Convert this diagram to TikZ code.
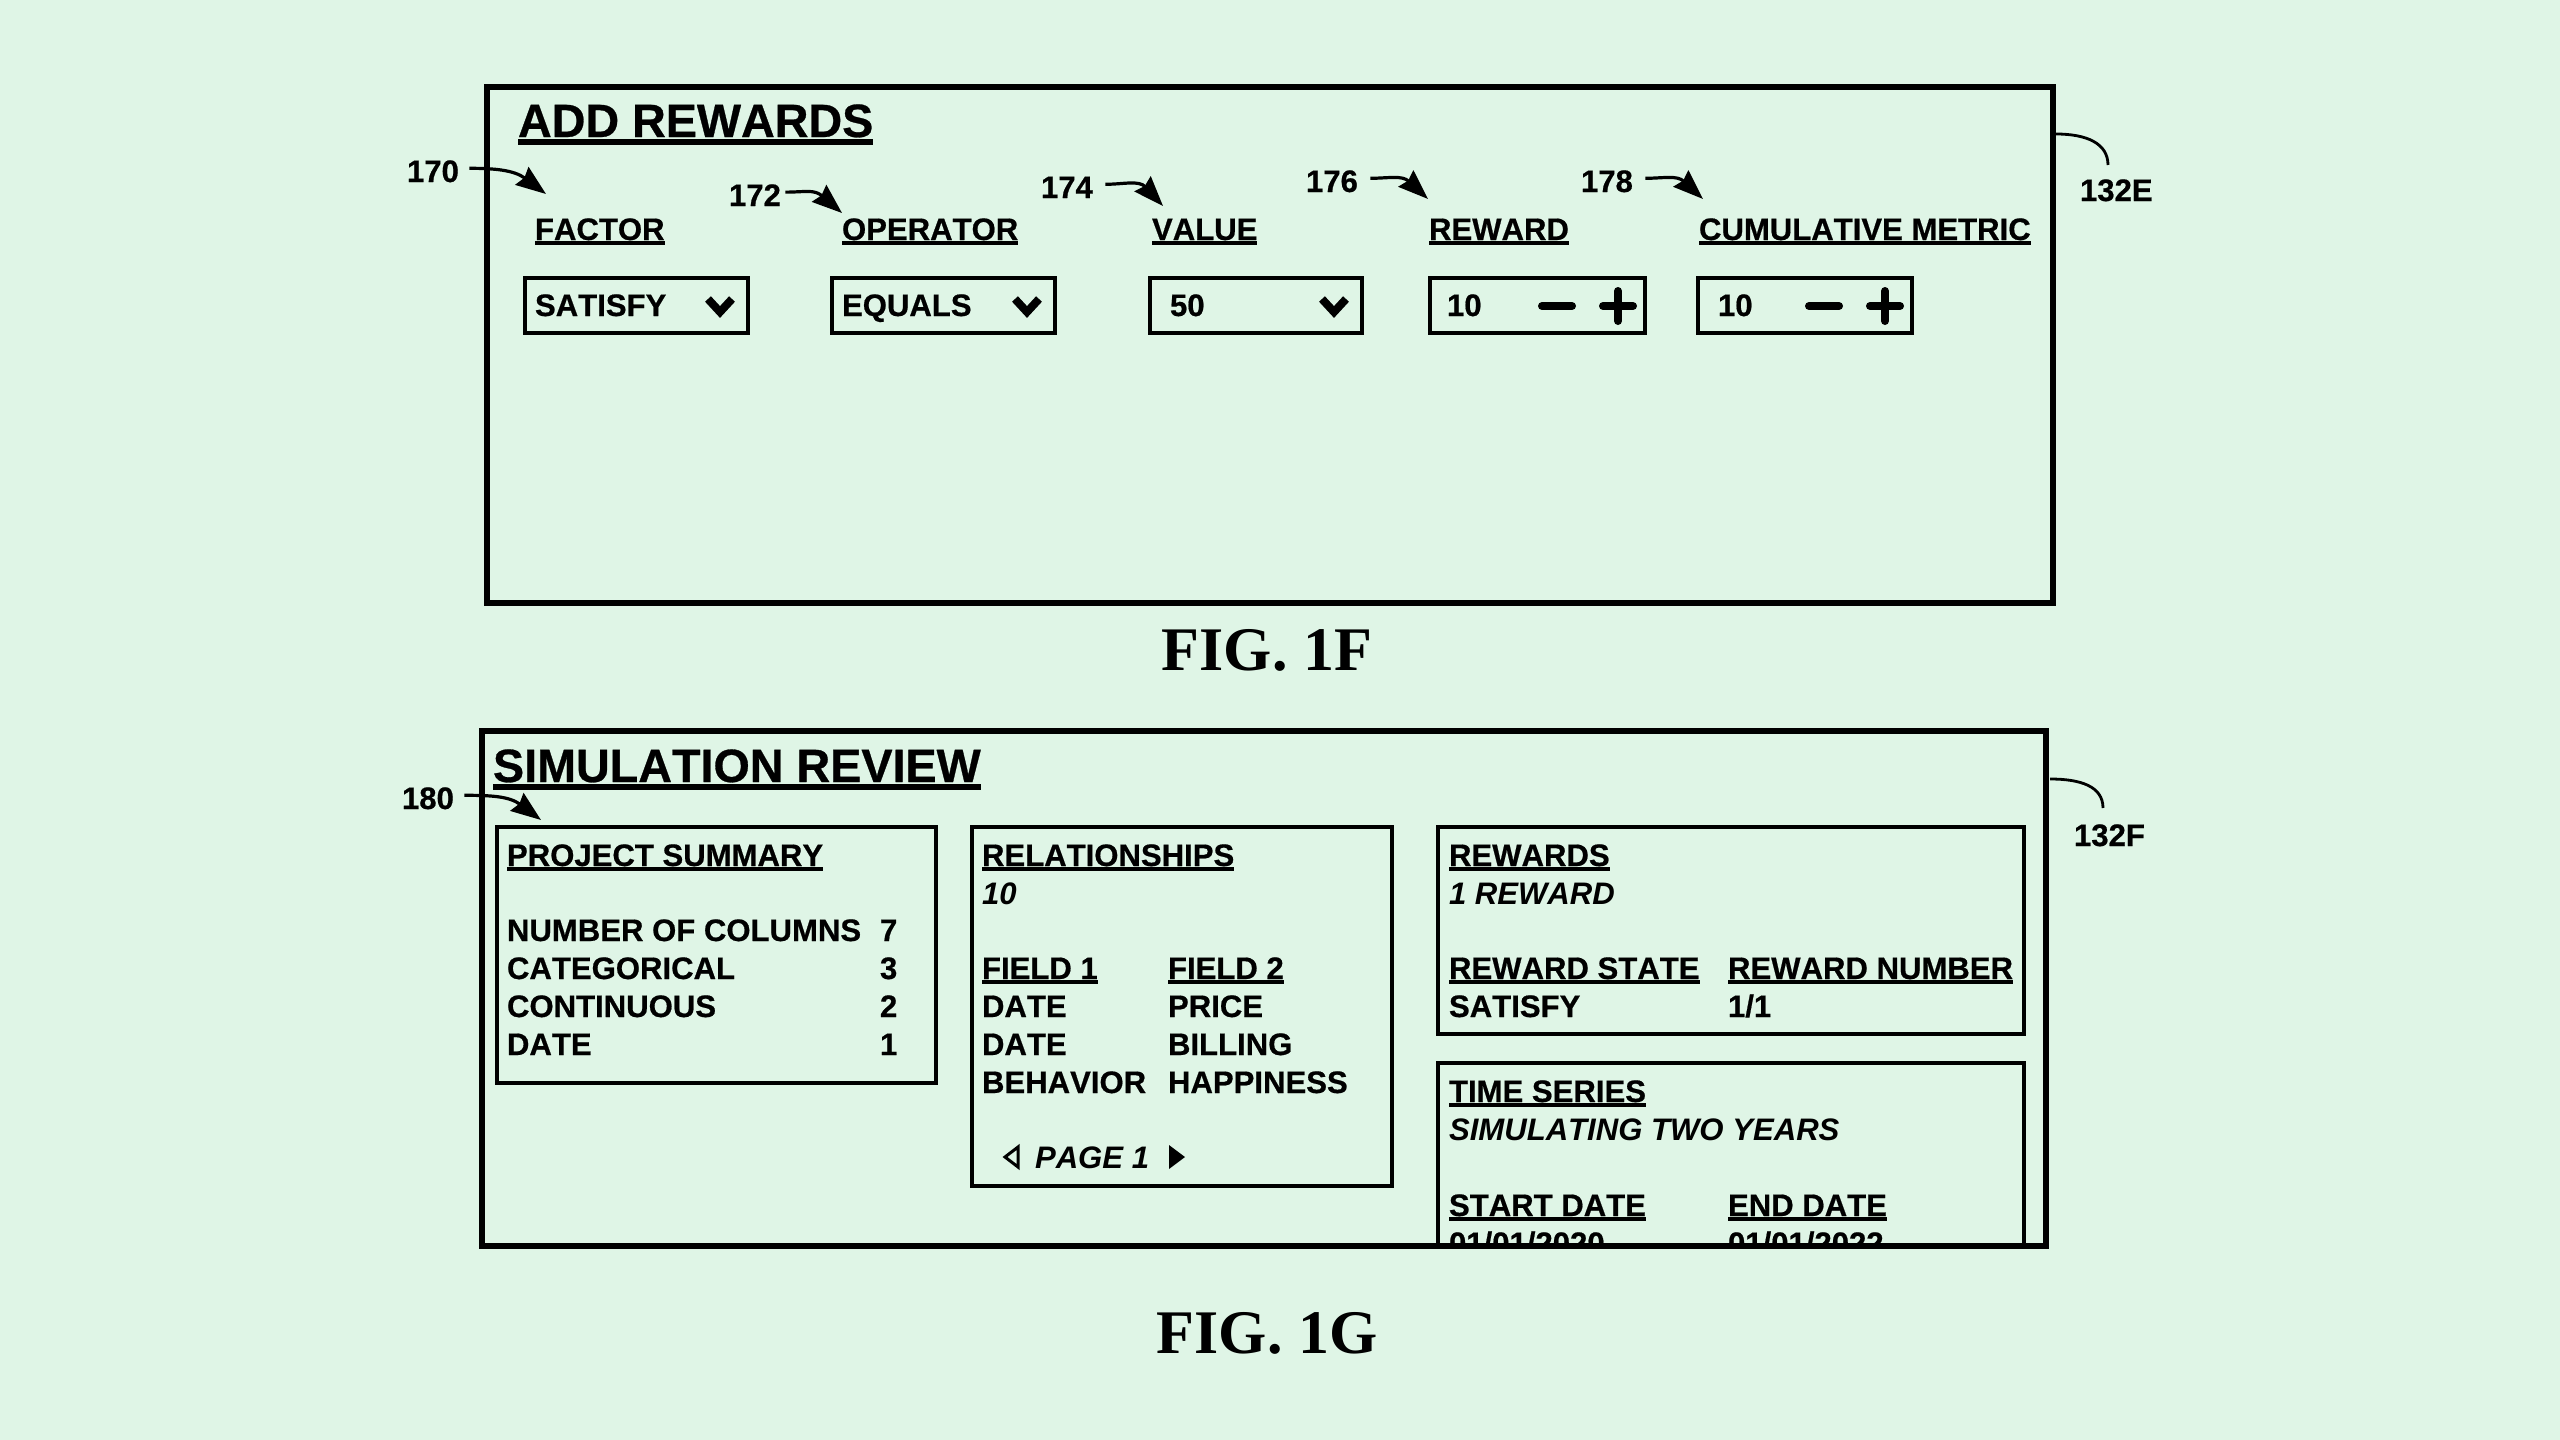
\documentclass[tikz,border=0pt]{standalone}
\usepackage{fontspec}
\setmainfont[Kerning=Off,BoldFeatures={FakeBold=0.6}]{Liberation Sans}
\newfontfamily\figfont{Liberation Serif}
\usepackage{xcolor}
\usetikzlibrary{arrows.meta}

\definecolor{paper}{HTML}{DFF5E6}

\newlength{\ulwd}
\newcommand{\ulab}[1]{\settowidth{\ulwd}{#1}\rlap{\vrule height -0.04em depth 0.17em width \ulwd}#1}

\tikzset{
	frame/.style={line width=3pt},
	panel/.style={line width=1.8pt},
	txt/.style={anchor=base west, inner sep=0pt, xshift=-0.7pt, font=\bfseries\fontsize{15.55}{18}\selectfont},
	itxt/.style={txt, font=\bfseries\itshape\fontsize{15.55}{18}\selectfont},
	title/.style={txt, font=\bfseries\fontsize{23.35}{28}\selectfont},
	figlabel/.style={anchor=base, inner sep=0pt, font=\figfont\bfseries\fontsize{31}{36}\selectfont},
	lead/.style={line width=1.6pt, -{Stealth[length=15pt,width=11pt,inset=1.5pt]}},
	bracket/.style={line width=1.4pt},
	chevron/.style={line width=4pt, line join=miter},
	sign/.style={line width=4pt, line cap=round}
}

\begin{document}
\begin{tikzpicture}[x=0.5pt,y=-0.5pt]
	\fill[paper] (0,0) rectangle (2560,1440);
	\useasboundingbox (0,0) rectangle (2560,1440);

	% FIG. 1F
	\draw[frame] (487,87) rectangle (2053,603);
	\node[title] (addrewards) at (519,137) {\ulab{ADD REWARDS}};

	\foreach \x/\nm/\lab in {536/factor/FACTOR,843/operator/OPERATOR,1153/value/VALUE,1430/reward/REWARD,1700/metric/CUMULATIVE METRIC}
	{
		\node[txt] (\nm) at (\x,240) {\ulab{\lab}};
	}

	\foreach \x/\xx/\xt/\xc/\nm/\lab in {525/748/536/720/satisfy/SATISFY,832/1055/843/1027/equals/EQUALS,1150/1362/1171/1334/fifty/50}
	{
		\draw[panel] (\x,278) rectangle (\xx,333);
		\node[txt] (\nm) at (\xt,316) {\lab};
		\draw[chevron] (\xc-12,299) -- (\xc,312) -- (\xc+12,299);
	}

	\foreach \x/\xx/\xt/\xm/\xp/\nm in {1430/1645/1448/1557/1618/rewardval,1698/1912/1719/1824/1885/metricval}
	{
		\draw[panel] (\x,278) rectangle (\xx,333);
		\node[txt] (\nm) at (\xt,316) {10};
		\draw[sign] (\xm-15,306) -- (\xm+15,306);
		\draw[sign] (\xp-15,306) -- (\xp+15,306);
		\draw[sign] (\xp,291) -- (\xp,321);
	}

	\node[txt] (n170) at (408,182) {170};
	\node[txt] (n172) at (730,206) {172};
	\node[txt] (n174) at (1042,198) {174};
	\node[txt] (n176) at (1307,192) {176};
	\node[txt] (n178) at (1582,192) {178};
	\node[txt] (n132E) at (2081,201) {132E};

	\coordinate (c170) at (546,194);
	\coordinate (c172) at (842,213);
	\coordinate (c174) at (1163,206);
	\coordinate (c176) at (1428,199);
	\coordinate (c178) at (1703,199);
	\coordinate (e132E) at (2056,134);
	\coordinate (t132E) at (2108,165);

	\begin{scope}[lead]
		\draw ([xshift=5pt,yshift=1.5pt]n170.east) .. controls +(25,0) and +(-32,-24) .. (c170);
		\draw ([xshift=2pt,yshift=1.5pt]n172.east) .. controls +(20,0) and +(-28,-24) .. (c172);
		\draw ([xshift=6pt,yshift=1.5pt]n174.east) .. controls +(18,0) and +(-24,-26) .. (c174);
		\draw ([xshift=6pt,yshift=1.5pt]n176.east) .. controls +(18,0) and +(-26,-24) .. (c176);
		\draw ([xshift=6pt,yshift=1.5pt]n178.east) .. controls +(18,0) and +(-26,-24) .. (c178);
	\end{scope}
	\draw[bracket] (e132E) .. controls +(30,0) and +(0,-22) .. (t132E);

	\node[figlabel] (fig1f) at (1267,670) {FIG. 1F};

	% FIG. 1G
	\begin{scope}
		\clip (482,731) rectangle (2046,1244);
		\node[txt] (startval) at (1450,1254) {01/01/2020};
		\node[txt] (endval) at (1729,1254) {01/01/2022};
	\end{scope}
	\draw[frame] (482,731) rectangle (2046,1246);
	\node[title] (simreview) at (494,782) {\ulab{SIMULATION REVIEW}};

	% project summary
	\draw[panel] (497,827) rectangle (936,1083);
	\node[txt] (summary) at (508,866) {\ulab{PROJECT SUMMARY}};
	\foreach \y/\nm/\lab/\val in {941/columns/NUMBER OF COLUMNS/7,979/categorical/CATEGORICAL/3,1017/continuous/CONTINUOUS/2,1055/datecount/DATE/1}
	{
		\node[txt] (\nm) at (508,\y) {\lab};
		\node[txt] (\nm val) at (881,\y) {\val};
	}

	% relationships
	\draw[panel] (972,827) rectangle (1392,1186);
	\node[txt] (relations) at (983,866) {\ulab{RELATIONSHIPS}};
	\node[itxt] (relcount) at (983,904) {10};
	\node[txt] (fieldone) at (983,979) {\ulab{FIELD 1}};
	\node[txt] (fieldtwo) at (1169,979) {\ulab{FIELD 2}};
	\foreach \y/\nm/\lab/\val in {1017/price/DATE/PRICE,1055/billing/DATE/BILLING,1093/happiness/BEHAVIOR/HAPPINESS}
	{
		\node[txt] (\nm a) at (983,\y) {\lab};
		\node[txt] (\nm b) at (1169,\y) {\val};
	}
	\node[itxt] (pagenum) at (1036,1168) {PAGE 1};
	\draw[line width=1.5pt, line join=miter] (1018,1147) -- (1005,1157) -- (1018,1167) -- cycle;
	\fill (1169,1145) -- (1185,1157) -- (1169,1169) -- cycle;

	% rewards
	\draw[panel] (1438,827) rectangle (2024,1034);
	\node[txt] (rewards) at (1450,866) {\ulab{REWARDS}};
	\node[itxt] (onereward) at (1450,904) {1 REWARD};
	\node[txt] (rstate) at (1450,979) {\ulab{REWARD STATE}};
	\node[txt] (rnumber) at (1729,979) {\ulab{REWARD NUMBER}};
	\node[txt] (rstateval) at (1450,1017) {SATISFY};
	\node[txt] (rnumberval) at (1729,1017) {1/1};

	% time series
	\draw[panel] (1438,1246) -- (1438,1063) -- (2024,1063) -- (2024,1246);
	\node[txt] (timeseries) at (1450,1102) {\ulab{TIME SERIES}};
	\node[itxt] (twoyears) at (1450,1140) {SIMULATING TWO YEARS};
	\node[txt] (startdate) at (1450,1216) {\ulab{START DATE}};
	\node[txt] (enddate) at (1729,1216) {\ulab{END DATE}};

	\node[txt] (n180) at (403,809) {180};
	\node[txt] (n132F) at (2075,846) {132F};

	\coordinate (c180) at (541,820);
	\coordinate (e132F) at (2050,779);
	\coordinate (t132F) at (2103,808);

	\draw[lead] ([xshift=5pt,yshift=1.5pt]n180.east) .. controls +(25,0) and +(-32,-24) .. (c180);
	\draw[bracket] (e132F) .. controls +(30,0) and +(0,-22) .. (t132F);

	\node[figlabel] (fig1g) at (1267,1353) {FIG. 1G};
\end{tikzpicture}
\end{document}
